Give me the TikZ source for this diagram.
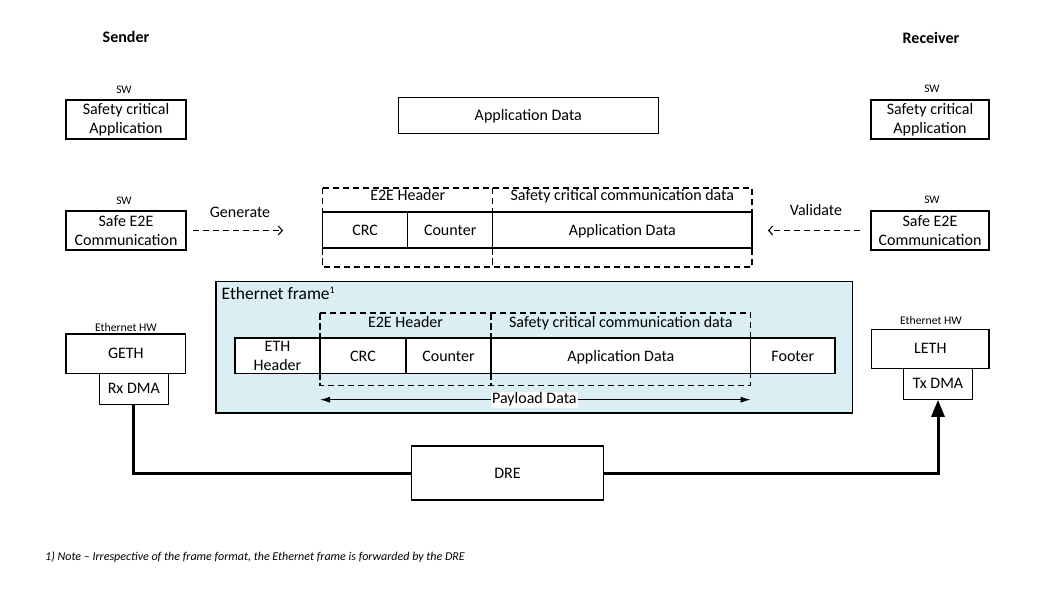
\documentclass[tikz,border=0pt]{standalone}
\usepackage{fontspec}
\setmainfont{Carlito}
\usetikzlibrary{arrows.meta}
\definecolor{frameblue}{HTML}{DAEEF3}
\begin{document}
\begin{tikzpicture}[x=1pt,y=-1pt,
  every node/.style={font=\fontsize{16}{19}\selectfont, inner sep=0pt},
  box/.style={draw, line width=1.1pt, align=center},
  cell/.style={draw, line width=1.1pt, align=center, fill=white},
  capc/.style={text height=10.3pt, text depth=0pt},
  lbl/.style={font=\fontsize{11.5}{13}\selectfont},
  hwlbl/.style={font=\fontsize{11.7}{13}\selectfont},
  heading/.style={font=\bfseries\fontsize{16}{19}\selectfont},
  dashbox/.style={line width=1.1pt, dash pattern=on 6.5pt off 3.5pt},
  dasharrow/.style={line width=1.1pt, dash pattern=on 6.5pt off 3.5pt, -{Straight Barb[length=4pt,width=9pt]}},
  thickline/.style={line width=3pt},
  dblarrow/.style={line width=1.1pt, {Latex[length=10pt,width=6pt]}-{Latex[length=10pt,width=6pt]}}
]
\useasboundingbox (0,0) rectangle (1057,596);

% headings
\node[heading, anchor=base] (sender) at (126,42.3) {Sender};
\node[heading, anchor=base] (receiver) at (931,43.5) {Receiver};

% sender SW
\node[lbl] (sw1) at (124,90) {SW};
\node[box, minimum width=120pt, minimum height=39pt] (sca) at (126,119.5) {Safety critical\\Application};
\node[lbl] (sw2) at (124,201) {SW};
\node[box, minimum width=120pt, minimum height=39pt] (se2e) at (126,230.5) {Safe E2E\\Communication};

% receiver SW
\node[lbl] (sw3) at (932,89) {SW};
\node[box, minimum width=118pt, minimum height=39pt] (rca) at (930,119.5) {Safety critical\\Application};
\node[lbl] (sw4) at (932,200) {SW};
\node[box, minimum width=118pt, minimum height=39pt] (re2e) at (930,230.5) {Safe E2E\\Communication};

% top application data
\node[box, capc, minimum width=260pt, minimum height=35.6pt] (appd) at (528.3,115.5) {Application Data};

% E2E protected message
\node[cell, capc, minimum width=85pt, minimum height=36pt] (crc1) at (365.2,230) {CRC};
\node[cell, capc, minimum width=85pt, minimum height=36pt] (cnt1) at (450.2,230) {Counter};
\node[cell, capc, minimum width=259.3pt, minimum height=36pt] (ad1) at (622.35,230) {Application Data};
\draw[dashbox] (322.7,188) rectangle (752,267);
\draw[dashbox] (492.7,188) -- (492.7,212);
\draw[dashbox] (492.7,248) -- (492.7,267);
\node[anchor=base] (e2eh1) at (407.7,200.5) {E2E Header};
\node[anchor=base] (scd1) at (622.35,200.5) {Safety critical communication data};

% generate / validate
\node[anchor=base] (gen) at (240,218) {Generate};
\coordinate (genend) at (283,230.5);
\draw[dasharrow] ([xshift=6pt]se2e.east) -- (genend);
\node[anchor=base] (val) at (816,215.5) {Validate};
\coordinate (valend) at (768,230.5);
\draw[dasharrow] ([xshift=-10pt]re2e.west) -- (valend);

% Ethernet frame
\node[draw, line width=1.1pt, fill=frameblue, minimum width=636.7pt, minimum height=131.7pt] (ethf) at (534.35,347.15) {};
\node[anchor=base west, font=\fontsize{17.5}{20}\selectfont] (ethlbl) at (221.5,299.5) {Ethernet frame\textsuperscript{\fontsize{10}{10}\selectfont 1}};
\node[cell, minimum width=85pt, minimum height=35.7pt, font=\fontsize{16}{19.5}\selectfont] (ethh) at (277.5,355.85) {ETH\\Header};
\node[cell, capc, minimum width=86pt, minimum height=35.7pt] (crc2) at (363,355.85) {CRC};
\node[cell, capc, minimum width=85pt, minimum height=35.7pt] (cnt2) at (448.5,355.85) {Counter};
\node[cell, capc, minimum width=259.7pt, minimum height=35.7pt] (ad2) at (620.85,355.85) {Application Data};
\node[cell, capc, minimum width=84.3pt, minimum height=35.7pt] (foot) at (792.85,355.85) {Footer};
\draw[dashbox] (320,313) rectangle (750.7,385.3);
\draw[dashbox] (491,313) -- (491,385.3);
\node[anchor=base] (e2eh2) at (405.5,327) {E2E Header};
\node[anchor=base] (scd2) at (620.85,327) {Safety critical communication data};
\coordinate (pl) at (320,399.7);
\coordinate (pr) at (750.7,399.7);
\draw[dblarrow] (pl) -- (pr);
\node[fill=white, inner sep=1pt] (payload) at (534.4,399.7) {Payload Data};

% hardware
\node[hwlbl] (ehw1) at (126,327) {Ethernet HW};
\node[box, capc, minimum width=119.7pt, minimum height=39.3pt] (geth) at (125.85,353.65) {GETH};
\node[box, capc, minimum width=69pt, minimum height=31pt] (rxdma) at (133.8,388.7) {Rx DMA};
\node[hwlbl] (ehw2) at (931,320) {Ethernet HW};
\node[box, capc, minimum width=117.3pt, minimum height=39pt] (leth) at (930.35,348.8) {LETH};
\node[box, capc, minimum width=69.4pt, minimum height=31pt] (txdma) at (938,383.8) {Tx DMA};

% DRE
\node[box, capc, minimum width=191.6pt, minimum height=54pt] (dre) at (507.5,473) {DRE};
\draw[thickline] (rxdma.south) |- (dre.west);
\draw[thickline, -{Triangle[length=17pt,width=13pt]}] (dre.east) -| (txdma.south);

% footnote
\node[anchor=west, font=\itshape\fontsize{12}{14}\selectfont] (note) at (45,557) {1) Note -- Irrespective of the frame format, the Ethernet frame is forwarded by the DRE};
\end{tikzpicture}
\end{document}
